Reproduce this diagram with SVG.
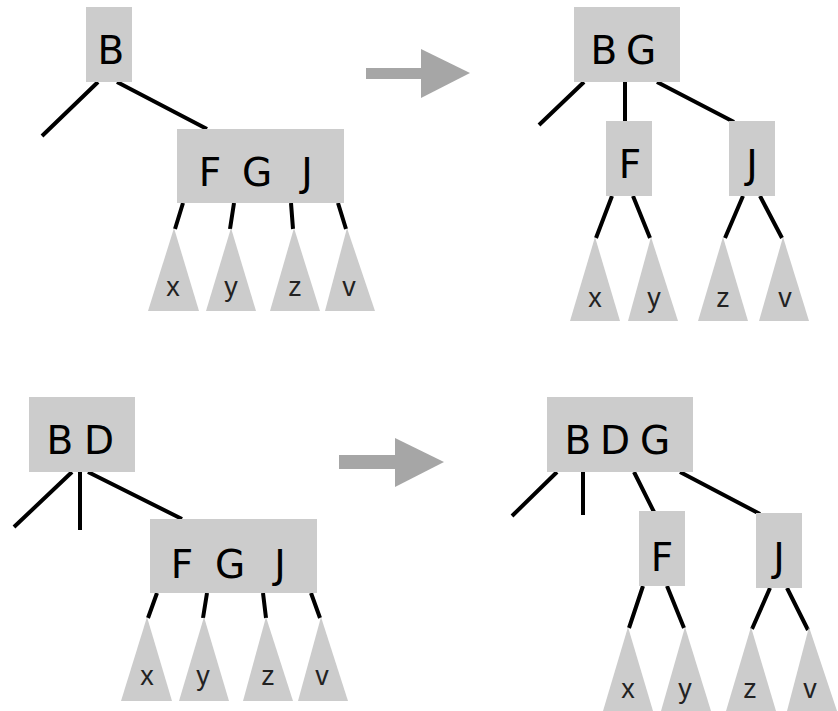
<svg xmlns="http://www.w3.org/2000/svg" width="838" height="711" viewBox="0 0 838 711">
<style>
.box{fill:#cccccc}
.tri{fill:#cccccc}
.edge{stroke:#000;stroke-width:4;fill:none}
.key{font-family:"Comic Sans MS","DejaVu Sans",sans-serif;font-size:39px;fill:#000;text-anchor:middle}
.lbl{font-family:"Liberation Sans",Arial,sans-serif;font-size:27px;fill:#222;text-anchor:middle}
.arrow{fill:#a6a6a6}
</style>
<rect width="838" height="711" fill="#fff"/>
<g id="connectors">
<path class="edge" d="M98,82 L42,136 M117,82 L207,129 M183,203 L175,229 M234,203 L230,229 M291,203 L293,229 M338,203 L346,229"/>
<path class="edge" d="M584,82 L539,125 M625,82 L625,121 M657,82 L734,122 M612,196 L596,238 M633,196 L650,238 M743,196 L725,238 M760,196 L782,238"/>
<path class="edge" d="M72,472 L14,527 M80,472 L80,530 M88,472 L182,519 M157,593 L148,618 M207,593 L203,618 M263,593 L266,618 M311,593 L320,618"/>
<path class="edge" d="M557,472 L512,516 M583,472 L583,515 M634,472 L654,512 M680,472 L760,514 M643,586 L629,628 M667,586 L684,628 M770,588 L752,629 M787,588 L808,630"/>
</g>
<g id="arrow-top"><rect class="arrow" x="366" y="68" width="56" height="11"/><polygon class="arrow" points="421,49 470,73 421,98"/></g>
<g id="arrow-bottom"><rect class="arrow" x="339" y="455" width="57" height="14"/><polygon class="arrow" points="395,438 444,462 395,487"/></g>

<g id="tl-B"><rect class="box" x="86" y="7" width="46" height="75"/><text class="key" x="111" y="64">B</text></g>
<g id="tl-FGJ"><rect class="box" x="177" y="129" width="167" height="74"/><text class="key" y="186"><tspan x="210">F</tspan><tspan x="257">G</tspan><tspan x="307">J</tspan></text></g>
<g id="tl-x"><polygon class="tri" points="174,228 148,311 199,311"/><text class="lbl" x="173" y="296">x</text></g>
<g id="tl-y"><polygon class="tri" points="231,228 206,311 256,311"/><text class="lbl" x="231" y="296">y</text></g>
<g id="tl-z"><polygon class="tri" points="294,228 270,311 320,311"/><text class="lbl" x="295" y="296">z</text></g>
<g id="tl-v"><polygon class="tri" points="347,228 325,311 375,311"/><text class="lbl" x="349" y="296">v</text></g>

<g id="tr-BG"><rect class="box" x="574" y="7" width="106" height="75"/><text class="key" y="64"><tspan x="604">B</tspan><tspan x="641">G</tspan></text></g>
<g id="tr-F"><rect class="box" x="606" y="121" width="46" height="75"/><text class="key" x="630" y="178">F</text></g>
<g id="tr-J"><rect class="box" x="729" y="121" width="46" height="75"/><text class="key" x="752" y="178">J</text></g>
<g id="tr-x"><polygon class="tri" points="595,237 570,321 620,321"/><text class="lbl" x="595" y="307">x</text></g>
<g id="tr-y"><polygon class="tri" points="651,237 628,321 678,321"/><text class="lbl" x="654" y="307">y</text></g>
<g id="tr-z"><polygon class="tri" points="723,237 698,321 748,321"/><text class="lbl" x="723" y="307">z</text></g>
<g id="tr-v"><polygon class="tri" points="783,237 759,321 809,321"/><text class="lbl" x="785" y="307">v</text></g>

<g id="bl-BD"><rect class="box" x="29" y="397" width="106" height="75"/><text class="key" y="454"><tspan x="60">B</tspan><tspan x="99">D</tspan></text></g>
<g id="bl-FGJ"><rect class="box" x="150" y="519" width="167" height="74"/><text class="key" y="578"><tspan x="182">F</tspan><tspan x="230">G</tspan><tspan x="280">J</tspan></text></g>
<g id="bl-x"><polygon class="tri" points="147,617 121,701 172,701"/><text class="lbl" x="147" y="685">x</text></g>
<g id="bl-y"><polygon class="tri" points="204,617 179,701 229,701"/><text class="lbl" x="203" y="685">y</text></g>
<g id="bl-z"><polygon class="tri" points="266,617 243,701 293,701"/><text class="lbl" x="268" y="685">z</text></g>
<g id="bl-v"><polygon class="tri" points="321,617 298,701 348,701"/><text class="lbl" x="322" y="685">v</text></g>

<g id="br-BDG"><rect class="box" x="547" y="397" width="146" height="75"/><text class="key" y="454"><tspan x="578">B</tspan><tspan x="615">D</tspan><tspan x="655">G</tspan></text></g>
<g id="br-F"><rect class="box" x="639" y="511" width="46" height="75"/><text class="key" x="662" y="571">F</text></g>
<g id="br-J"><rect class="box" x="756" y="513" width="46" height="75"/><text class="key" x="779" y="571">J</text></g>
<g id="br-x"><polygon class="tri" points="628,627 603,711 653,711"/><text class="lbl" x="628" y="698">x</text></g>
<g id="br-y"><polygon class="tri" points="685,627 661,711 711,711"/><text class="lbl" x="685" y="698">y</text></g>
<g id="br-z"><polygon class="tri" points="751,627 726,711 776,711"/><text class="lbl" x="750" y="698">z</text></g>
<g id="br-v"><polygon class="tri" points="809,627 787,711 837,711"/><text class="lbl" x="810" y="698">v</text></g>
</svg>
